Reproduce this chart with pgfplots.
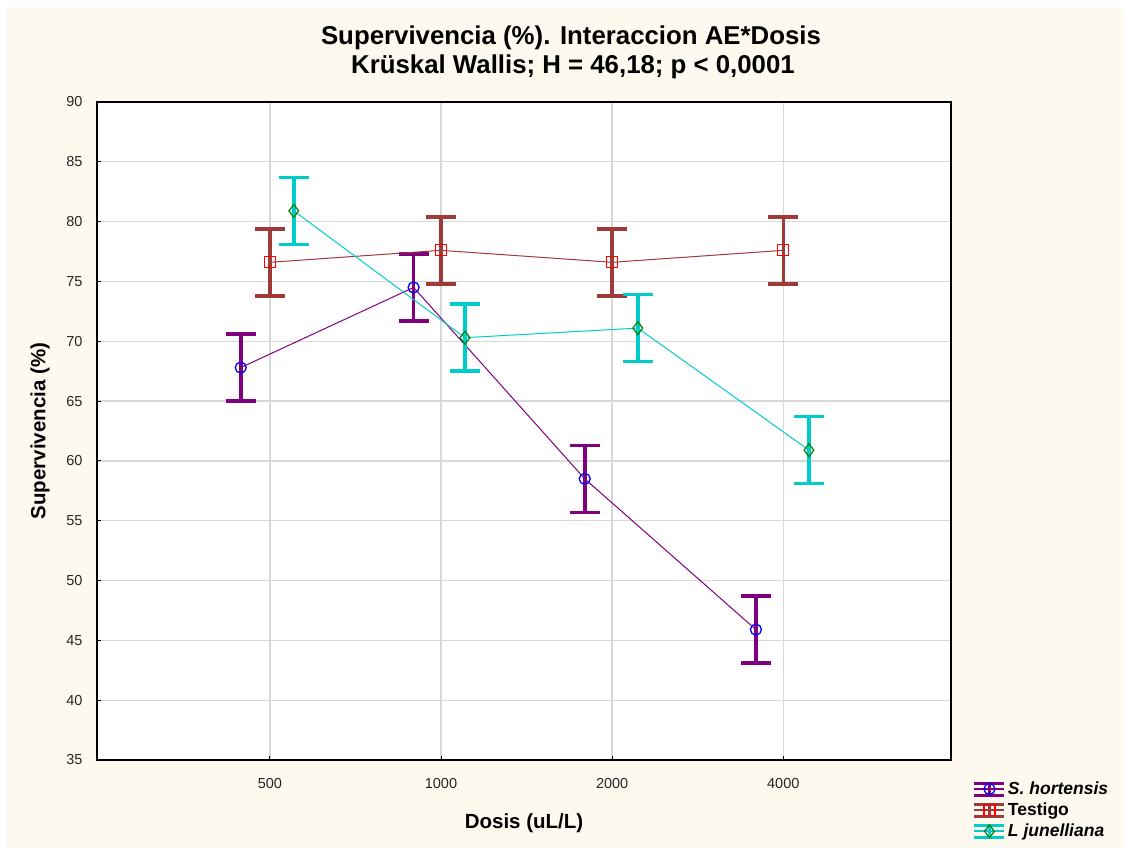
\documentclass[border=0pt]{standalone}
\usepackage{pgfplots}
\pgfplotsset{compat=1.18}
\usepackage{fontspec}
\setmainfont{Liberation Sans}
\definecolor{cream}{HTML}{FEF9EE}
\definecolor{shline}{HTML}{800080}
\definecolor{shmark}{HTML}{0000FF}
\definecolor{teline}{HTML}{9E3A3A}
\definecolor{temark}{HTML}{FF0000}
\definecolor{ljline}{HTML}{00CCCC}
\definecolor{ljmark}{HTML}{008000}
\definecolor{gridgray}{HTML}{D8D8D8}
\begin{document}
\begin{tikzpicture}[x=1bp,y=1bp]
\fill[white] (0,0) rectangle (1128,852);
\fill[cream] (7,4) rectangle (1124,845);
\node[font=\fontsize{25.8bp}{28bp}\selectfont\bfseries] at (571,814) {Supervivencia (\%). Interaccion AE*Dosis};
\node[font=\fontsize{25.8bp}{28bp}\selectfont\bfseries] at (573,785) {Krüskal Wallis; H = 46,18; p < 0,0001};
\begin{axis}[
  at={(97bp,92bp)}, anchor=south west,
  scale only axis, width=854bp, height=658bp,
  xmin=-1.01, xmax=3.98, ymin=35, ymax=90,
  xtick={0,1,2,3}, xticklabels={500,1000,2000,4000},
  ytick={35,40,...,90},
  axis background/.style={fill=white},
  axis line style={black, line width=1.4bp},
  grid=major, major grid style={gridgray, line width=1.3bp},
  tick pos=left, tick align=inside, major tick length=4bp,
  tick style={black, line width=1bp},
  tick label style={font=\fontsize{14.5bp}{16bp}\selectfont, text=black!85},
  /pgf/number format/assume math mode=true,
  yticklabel style={xshift=-11bp},
  xticklabel style={yshift=-15bp},
  xlabel={Dosis (uL/L)},
  ylabel={Supervivencia (\%)},
  label style={font=\fontsize{20.5bp}{23bp}\selectfont\bfseries},
  xlabel style={at={(rel axis cs:0.5,0)}, anchor=center, yshift=-63bp},
  ylabel style={at={(rel axis cs:0,0.5)}, anchor=center, yshift=57bp},
  legend style={at={(1.0255,-0.03)}, anchor=north west, draw=none, fill=none,
    font=\fontsize{17.5bp}{20bp}\selectfont\bfseries, row sep=3bp,
    inner xsep=0bp, inner ysep=0bp,
    cells={anchor=west}},
  legend cell align=left,
  legend image code/.code={
    \draw[#1, line width=3bp, mark=none] (0bp,6bp) -- (30bp,6bp) (0bp,-6bp) -- (30bp,-6bp) (15bp,-6bp) -- (15bp,6bp);
    \draw[#1, line width=2bp, mark=none] (0bp,0bp) -- (30bp,0bp);
    \path[#1, error bars/draw error bar/.code 2 args={}] plot coordinates {(15bp,0bp)};
  },
  error bars/y dir=both, error bars/y explicit,
  clip=false,
]
\addplot[shline, line width=1bp, mark=o, mark size=5.5bp,
  mark options={draw=shmark, line width=1.3bp, solid},
  error bars/error bar style={shline, line width=3.5bp},
  error bars/error mark options={rotate=90, mark size=15bp, line width=3.5bp, shline}]
  coordinates {
  (-0.17,67.8) +- (0,2.8)
  (0.84,74.5) +- (0,2.8)
  (1.84,58.5) +- (0,2.8)
  (2.84,45.9) +- (0,2.8)
  };
\addlegendentry{\itshape S. hortensis}
\addplot[teline, line width=1bp, mark=square, mark size=5.5bp,
  mark options={draw=temark, line width=1.3bp, solid},
  error bars/error bar style={teline, line width=3.5bp},
  error bars/error mark options={rotate=90, mark size=15bp, line width=3.5bp, teline}]
  coordinates {
  (0,76.6) +- (0,2.8)
  (1,77.6) +- (0,2.8)
  (2,76.6) +- (0,2.8)
  (3,77.6) +- (0,2.8)
  };
\addlegendentry{Testigo}
\addplot[ljline, line width=1bp, mark=diamond, mark size=6.5bp,
  mark options={draw=ljmark, fill=white, line width=1.2bp, solid},
  error bars/error bar style={ljline, line width=3.5bp},
  error bars/error mark options={rotate=90, mark size=15bp, line width=3.5bp, ljline}]
  coordinates {
  (0.14,80.9) +- (0,2.8)
  (1.14,70.3) +- (0,2.8)
  (2.15,71.1) +- (0,2.8)
  (3.15,60.9) +- (0,2.8)
  };
\addlegendentry{\itshape L junelliana}
\end{axis}
\end{tikzpicture}
\end{document}
